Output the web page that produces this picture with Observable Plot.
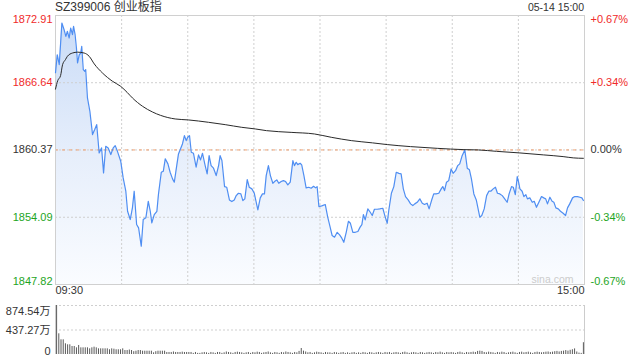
<!DOCTYPE html>
<html>
<head>
<meta charset="utf-8">
<script src="https://cdn.jsdelivr.net/npm/d3@7"></script>
<script src="https://cdn.jsdelivr.net/npm/@observablehq/plot@0.6"></script>
<style>
  html, body { margin: 0; padding: 0; background: #fff; }
  body { width: 640px; height: 360px; position: relative; overflow: hidden; font-family: "Liberation Sans", Arial, "Noto Sans CJK SC", sans-serif; }
  #title { position: absolute; left: 55px; top: 0px; font-size: 12px; line-height: 14px; color: #333; }
  #date { position: absolute; right: 56px; top: 1px; font-size: 10.5px; line-height: 13px; color: #333; }
  #main { position: absolute; left: 0; top: 14px; }
  #vol { position: absolute; left: 0; top: 300px; }
</style>
</head>
<body>
<div id="title">SZ399006 创业板指</div>
<div id="date">05-14 15:00</div>
<div id="main"></div>
<div id="vol"></div>
<script>
// ---- data ----
const titleText = "SZ399006 创业板指";
const prevClose = 1860.37;
const yTicks = [1872.91, 1866.64, 1860.37, 1854.09, 1847.82];
const pctLabels = ["+0.67%", "+0.34%", "0.00%", "-0.34%", "-0.67%"];
const timeLabels = [{t: 0, s: "09:30"}, {t: 240, s: "15:00"}];
const volTicks = [874.54, 437.27, 0];
const volLabels = ["874.54万", "437.27万", "0"];

// minutes since 09:30 (trading minutes) and price
const priceMinutes = [0,0.8,1.7,2.9,3.9,4.7,5.4,6.2,6.9,7.7,8.2,8.9,9.5,10.0,10.8,11.5,11.9,12.6,13.3,13.7,14.5,15.6,16.8,17.8,18.7,19.8,20.9,21.8,22.8,23.9,25.1,26.2,27.1,28.1,29.6,30.7,31.9,32.7,33.9,34.9,35.7,36.8,37.7,38.9,39.8,41.0,42.1,43.0,43.7,44.8,46.0,46.7,48.0,48.9,49.8,51.0,52.0,53.1,53.9,55.0,55.8,56.7,57.6,58.5,59.3,60.0,60.8,61.6,62.6,63.8,64.9,65.8,66.7,67.9,68.8,69.7,70.6,71.7,72.9,74.0,74.7,75.5,76.7,77.7,78.9,80.0,81.1,82.0,83.0,84.1,85.0,85.9,87.0,87.9,89.1,90.2,90.9,91.8,92.9,93.9,94.8,95.6,96.6,97.5,98.6,99.4,100.4,101.3,102.4,103.4,104.4,105.4,106.5,107.7,108.4,109.2,109.9,111.0,111.7,112.7,113.7,114.9,116.0,117.1,118.0,118.7,119.5,120.8,122.4,123.5,124.6,125.5,126.6,127.8,128.9,129.9,130.8,131.9,132.9,133.8,134.9,136.0,137.2,138.2,139.0,139.7,140.5,141.7,142.8,143.7,144.7,146.0,147.1,148.5,149.4,150.5,151.2,152.4,153.5,154.6,155.8,156.8,157.8,158.8,160.0,161.1,162.1,163.0,164.1,165.3,166.4,167.4,168.6,169.5,170.6,171.6,172.7,173.9,175.0,175.7,176.5,177.4,178.4,179.5,180.4,181.5,182.5,183.4,184.5,185.7,186.8,187.8,188.7,189.8,190.9,191.8,192.5,193.4,194.5,195.6,196.6,197.5,198.6,199.6,200.5,201.6,202.7,203.8,204.9,205.8,206.9,207.7,208.6,209.5,210.1,210.7,211.7,212.5,213.4,214.1,215.2,216.3,217.2,218.2,219.3,220.5,221.5,222.4,223.2,224.3,225.3,226.1,227.0,228.1,229.1,230.3,231.4,232.3,233.3,234.6,235.6,236.8,237.9,238.8,239.5];
const priceValues = [1867.58,1869.25,1868.32,1872.21,1871.58,1870.96,1871.43,1870.81,1871.74,1871.12,1871.89,1871.12,1869.88,1868.48,1869.25,1869.41,1870.03,1867.86,1867.70,1867.86,1865.22,1863.97,1861.80,1862.27,1862.73,1860.09,1860.56,1858.23,1860.71,1860.56,1859.94,1860.56,1860.77,1860.24,1859.31,1857.76,1856.52,1854.65,1853.88,1854.97,1856.52,1853.41,1853.10,1851.39,1853.88,1854.04,1855.58,1854.65,1853.57,1854.34,1854.65,1856.21,1858.29,1858.38,1859.54,1859.07,1858.29,1857.67,1857.36,1858.91,1860.00,1860.46,1860.93,1861.71,1861.24,1861.55,1861.71,1860.15,1860.06,1858.76,1859.91,1859.44,1860.06,1858.91,1858.14,1859.84,1858.91,1858.67,1857.98,1858.91,1859.84,1859.38,1856.95,1856.89,1855.71,1855.56,1855.71,1856.11,1856.33,1856.27,1855.65,1855.81,1857.61,1856.89,1856.74,1856.33,1855.65,1854.78,1855.90,1856.27,1856.27,1857.98,1858.91,1857.98,1857.26,1857.42,1857.58,1857.26,1857.42,1857.51,1857.42,1857.11,1857.36,1859.38,1858.91,1859.22,1859.00,1859.13,1858.98,1857.98,1856.83,1856.89,1856.80,1856.98,1856.83,1856.95,1855.09,1855.15,1855.28,1854.10,1853.17,1852.39,1852.23,1852.69,1852.45,1852.14,1851.76,1852.69,1853.72,1853.53,1852.69,1852.69,1852.76,1853.17,1853.41,1854.34,1853.85,1854.87,1854.56,1854.25,1854.84,1854.84,1854.87,1854.93,1854.25,1853.53,1854.72,1856.33,1856.95,1858.29,1858.19,1858.14,1856.74,1856.02,1855.71,1855.34,1855.18,1855.34,1855.49,1855.81,1855.40,1855.28,1855.40,1854.87,1855.65,1856.27,1856.27,1856.33,1856.74,1856.95,1856.58,1857.36,1857.51,1858.60,1858.19,1858.44,1858.91,1859.07,1859.84,1860.37,1858.67,1858.52,1857.67,1856.27,1855.71,1854.80,1854.10,1854.25,1854.87,1856.11,1856.52,1856.52,1856.74,1856.89,1856.33,1856.27,1856.11,1855.81,1855.49,1856.27,1856.95,1856.89,1856.20,1857.89,1857.36,1856.74,1856.52,1856.02,1856.20,1855.81,1855.90,1855.49,1855.58,1855.02,1855.49,1856.02,1855.90,1855.81,1855.34,1855.96,1855.58,1855.49,1854.97,1854.87,1854.65,1854.46,1854.25,1854.97,1855.34,1855.90,1856.02,1856.02,1855.96,1855.90,1855.65];

const avgMinutes = [0,1.0,2.3,3.2,4.5,5.4,7.7,10.0,13.0,15.3,17.6,21.3,25.9,29.6,32.5,34.9,39.5,44.0,47.6,54.3,60.3,69.4,77.0,84.5,90.6,95.7,106.9,117.5,125.1,134.2,143.8,150.5,161.1,173.2,185.3,191.9,200.1,210.7,221.3,230.3,234.9,239.5];
const avgValues = [1866.04,1866.83,1867.30,1868.32,1868.79,1869.10,1869.41,1869.49,1869.41,1869.10,1868.39,1867.55,1866.77,1866.30,1865.74,1865.22,1864.44,1863.91,1863.60,1863.26,1863.17,1862.95,1862.73,1862.48,1862.33,1862.17,1862.01,1861.86,1861.55,1861.24,1861.03,1860.87,1860.68,1860.52,1860.40,1860.37,1860.24,1860.09,1859.91,1859.75,1859.63,1859.59];

// volume per minute, in 万
const volumes = [
874.54,369,262,262,191,173,173,143,143,119,
161,119,119,119,119,101,119,131,119,101,
101,101,101,101,84,101,95,84,84,84,
101,71,71,80,71,50,59,71,71,59,
59,59,59,59,30,50,59,59,59,59,
36,36,36,45,36,36,36,42,36,36,
36,36,20,36,20,20,30,36,30,20,
36,30,20,36,36,20,30,45,36,30,
20,36,42,36,30,20,30,36,20,36,
30,42,36,20,30,36,45,30,20,36,
30,20,36,30,45,36,30,20,36,30,
55,107,60,45,30,36,20,30,42,36,
30,20,36,30,30,20,36,30,20,30,
36,20,30,20,30,36,20,30,20,36,
30,20,36,30,20,30,36,30,20,36,
30,36,20,30,36,30,20,36,42,30,
20,30,36,30,20,36,30,20,30,36,
30,20,36,30,42,30,20,36,30,36,
30,20,36,42,30,20,36,30,36,42,
36,55,60,55,36,30,42,36,30,20,
36,30,42,36,20,30,36,42,30,20,
36,42,30,36,42,30,20,36,42,36,
30,36,42,45,36,42,50,55,45,55,
60,70,60,75,85,100,45,25,20,210];

// ---- styling ----
const RED = "#f02a2a";
const GREEN = "#1ea51e";
const DARK = "#333";
const GRID = "#cfcfcf";
const colorFor = v => v > prevClose ? RED : v < prevClose ? GREEN : DARK;

const price = priceMinutes.map((t, i) => ({t, p: priceValues[i]}));
const avg = avgMinutes.map((t, i) => ({t, p: avgValues[i]}));
const ticks = yTicks.map((v, i) => ({v, pct: pctLabels[i], color: colorFor(v)}));
const yMin = yTicks[yTicks.length - 1], yMax = yTicks[0];
const vTicks = volTicks.map((v, i) => ({v, s: volLabels[i]}));
const vol = volumes.map((v, i) => ({t: i + 0.5, v}));

const font = "'Liberation Sans', Arial, 'Noto Sans CJK SC', sans-serif";

function labelMarks(rows, anchor) {
  return [
    Plot.text([rows[0]], {y: "v", text: d => d.v.toFixed(2), frameAnchor: "left", dx: -3, textAnchor: "end", lineAnchor: "top", fill: "color", dy: 0}),
    Plot.text(rows.slice(1, -1), {y: "v", text: d => d.v.toFixed(2), frameAnchor: "left", dx: -3, textAnchor: "end", lineAnchor: "middle", fill: "color"}),
    Plot.text([rows[rows.length - 1]], {y: "v", text: d => d.v.toFixed(2), frameAnchor: "left", dx: -3, textAnchor: "end", lineAnchor: "bottom", fill: "color"}),
    Plot.text([rows[0]], {y: "v", text: "pct", frameAnchor: "right", dx: 6, textAnchor: "start", lineAnchor: "top", fill: "color"}),
    Plot.text(rows.slice(1, -1), {y: "v", text: "pct", frameAnchor: "right", dx: 6, textAnchor: "start", lineAnchor: "middle", fill: "color"}),
    Plot.text([rows[rows.length - 1]], {y: "v", text: "pct", frameAnchor: "right", dx: 6, textAnchor: "start", lineAnchor: "bottom", fill: "color"})
  ];
}

const main = Plot.plot({
  width: 640,
  height: 286,
  marginTop: 1,
  marginBottom: 16,
  marginLeft: 55,
  marginRight: 56,
  x: {domain: [0, 240], axis: null},
  y: {domain: [yMin, yMax], axis: null},
  style: {fontFamily: font, fontSize: "11px", background: "transparent", overflow: "visible"},
  marks: [
    Plot.areaY(price, {x: "t", y1: yMin, y2: "p", fill: "url(#areaGrad)", curve: "linear"}),
    Plot.ruleX([30, 60, 90, 120, 150, 180, 210], {stroke: GRID, strokeDasharray: "2,2"}),
    Plot.ruleY([yTicks[1], yTicks[2], yTicks[3]], {stroke: GRID, strokeDasharray: "2,2"}),
    Plot.ruleY([prevClose], {stroke: "#f0a070", strokeDasharray: "3,4"}),
    Plot.frame({stroke: "#d0d0d0"}),
    Plot.line(price, {x: "t", y: "p", stroke: "#4f8ef2", strokeWidth: 1.2}),
    Plot.line(avg, {x: "t", y: "p", stroke: "#2a2a2a", strokeWidth: 1, curve: "monotone-x"}),
    ...labelMarks(ticks),
    Plot.text([timeLabels[0]], {x: "t", text: "s", frameAnchor: "bottom", dy: 9, textAnchor: "start", fill: DARK}),
    Plot.text([timeLabels[1]], {x: "t", text: "s", frameAnchor: "bottom", dy: 9, textAnchor: "end", fill: DARK}),
    Plot.text(["sina.com"], {text: d => d, frameAnchor: "bottom-right", dx: -11, dy: -5, textAnchor: "end", lineAnchor: "middle", fill: "#cccccc", fontSize: 10.5})
  ]
});

const ns = "http://www.w3.org/2000/svg";
const defs = document.createElementNS(ns, "defs");
defs.innerHTML = '<linearGradient id="areaGrad" x1="0" y1="0" x2="0" y2="1">' +
  '<stop offset="0" stop-color="#cadcf7"/>' +
  '<stop offset="0.5" stop-color="#e6eefb"/>' +
  '<stop offset="1" stop-color="#fafcff"/></linearGradient>';
main.insertBefore(defs, main.firstChild);
document.getElementById("main").appendChild(main);

const volPlot = Plot.plot({
  width: 640,
  height: 60,
  marginTop: 5,
  marginBottom: 6,
  marginLeft: 55,
  marginRight: 56,
  x: {domain: [0, 240], axis: null},
  y: {domain: [0, volTicks[0]], axis: null},
  style: {fontFamily: font, fontSize: "11px", background: "transparent", overflow: "visible"},
  marks: [
    Plot.ruleY([volTicks[0], volTicks[1]], {stroke: GRID, strokeDasharray: "2,2"}),
    Plot.ruleX([0, 240], {stroke: "#cccccc"}),
    Plot.ruleX(vol, {x: "t", y1: 0, y2: "v", stroke: "#5a5a5a", strokeWidth: 1}),
    Plot.text([vTicks[0]], {y: "v", text: "s", frameAnchor: "left", dx: -5, dy: 2, textAnchor: "end", lineAnchor: "top", fill: DARK}),
    Plot.text([vTicks[1]], {y: "v", text: "s", frameAnchor: "left", dx: -5, textAnchor: "end", lineAnchor: "middle", fill: DARK}),
    Plot.text([vTicks[2]], {y: "v", text: "s", frameAnchor: "left", dx: -5, textAnchor: "end", lineAnchor: "bottom", fill: DARK})
  ]
});
document.getElementById("vol").appendChild(volPlot);
</script>
</body>
</html>
